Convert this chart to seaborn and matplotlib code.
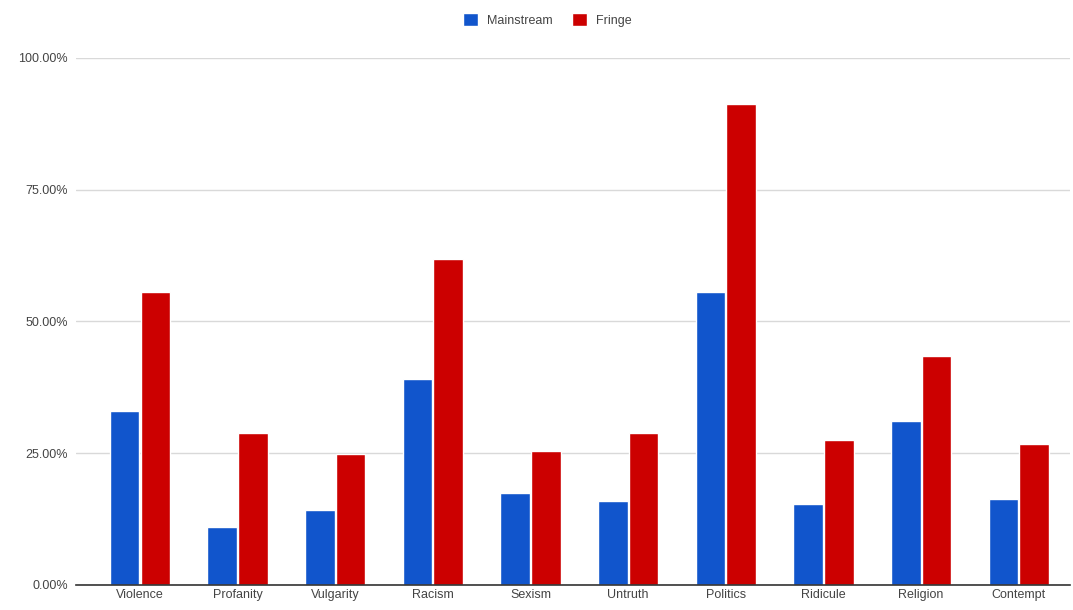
import matplotlib
matplotlib.use("Agg")
import matplotlib.pyplot as plt
import seaborn as sns
import pandas as pd
from matplotlib.patches import Patch
from matplotlib.ticker import FuncFormatter

categories = ["Violence", "Profanity", "Vulgarity", "Racism", "Sexism",
              "Untruth", "Politics", "Ridicule", "Religion", "Contempt"]
mainstream = [33.0, 11.0, 14.3, 39.1, 17.4, 15.9, 55.5, 15.3, 31.2, 16.4]
fringe = [55.6, 28.9, 24.8, 61.9, 25.5, 28.9, 91.3, 27.5, 43.4, 26.8]
series_names = ["Mainstream", "Fringe"]
yticks = [0, 25, 50, 75, 100]

colors = {"Mainstream": "#1155cc", "Fringe": "#cc0000"}

df = pd.DataFrame({
    "category": categories * 2,
    "value": mainstream + fringe,
    "series": [series_names[0]] * len(categories) + [series_names[1]] * len(categories),
})

sns.set_theme(style="white")
plt.rcParams["font.family"] = ["Liberation Sans", "DejaVu Sans"]

fig = plt.figure(figsize=(10.73, 6.10), dpi=100)
ax = fig.add_axes([0.0708, 0.041, 0.926, 0.864])

sns.barplot(data=df, x="category", y="value", hue="series", order=categories,
            hue_order=series_names, palette=colors, width=0.63, gap=0.04,
            saturation=1, ax=ax, legend=False)

ax.set_ylim(0, 100)
ax.set_xlim(-0.655, 9.52)
ax.set_yticks(yticks)
ax.yaxis.set_major_formatter(FuncFormatter(lambda v, _: f"{v:.2f}%"))
ax.grid(axis="y", color="#d9d9d9", linewidth=1)
ax.set_axisbelow(True)
for side in ["top", "right", "left"]:
    ax.spines[side].set_visible(False)
ax.spines["bottom"].set_color("#333333")
ax.spines["bottom"].set_linewidth(1.2)
ax.set_xlabel("")
ax.set_ylabel("")
ax.tick_params(axis="both", length=0, labelsize=9, colors="#444444")
ax.tick_params(axis="y", pad=6)
ax.tick_params(axis="x", pad=3)

handles = [Patch(facecolor=colors[s], label=s) for s in series_names]
fig.legend(handles=handles, loc="center", bbox_to_anchor=(0.51, 0.967), ncol=2,
           frameon=False, fontsize=9, handlelength=1.2, handleheight=1.2,
           handletextpad=0.7, columnspacing=1.6, labelcolor="#444444")

fig.savefig("out.png", dpi=100, facecolor="white")
